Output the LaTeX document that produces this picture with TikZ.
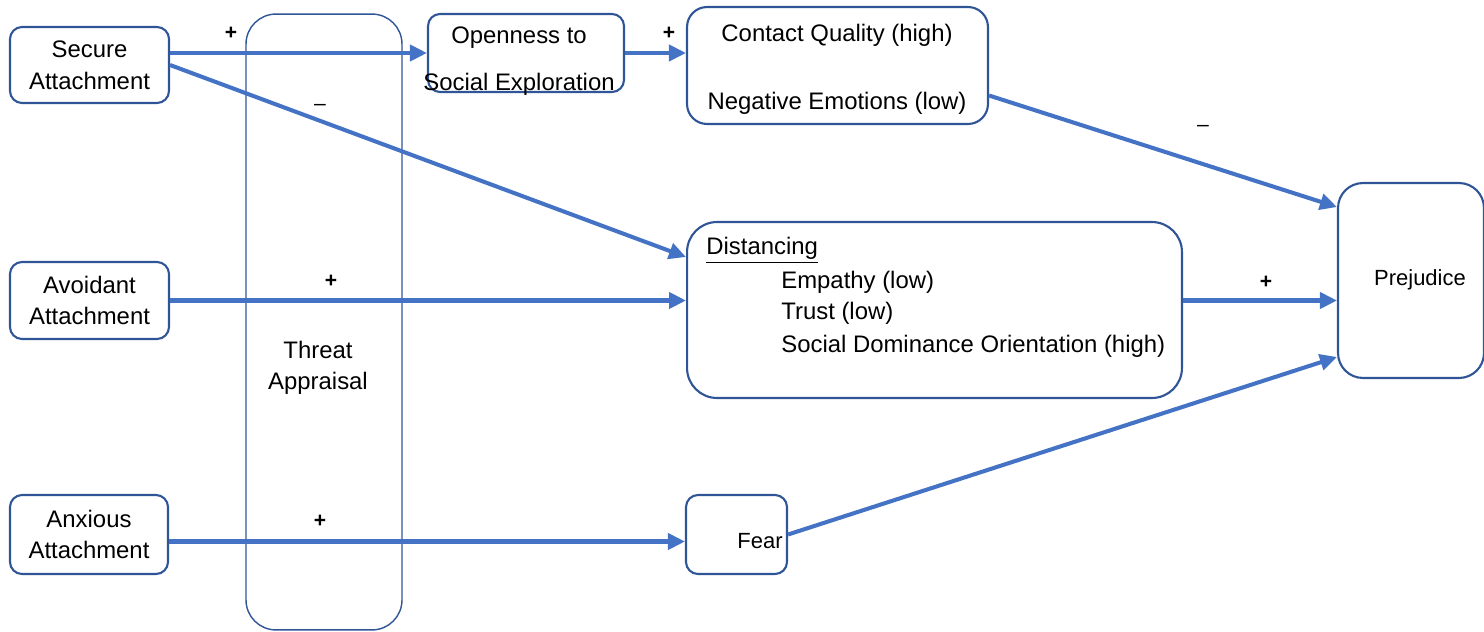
\documentclass[tikz,border=0pt]{standalone}
\usepackage{fontspec}
\setmainfont{Liberation Sans}
\usepackage{tikz}
\usetikzlibrary{positioning,calc,arrows.meta}

\definecolor{lineblue}{HTML}{4472C4}
\definecolor{boxblue}{HTML}{2F5597}

\tikzset{
  box/.style={draw=boxblue, line width=1.2pt, rounded corners=0.24cm, align=center,
    inner sep=0pt, font=\fontsize{13.6}{18}\selectfont},
  txt/.style={inner sep=0pt, font=\fontsize{13.6}{18}\selectfont},
  link/.style={draw=lineblue, line width=2.3pt, -{Triangle[length=0.34cm,width=0.32cm]}},
  sign/.style={inner sep=0pt, font=\fontsize{12}{12}\selectfont\bfseries}
}

\begin{document}
\begin{tikzpicture}[x=0.02cm,y=-0.02cm]
    \useasboundingbox (0,0) rectangle (1484,632);

    % Threat appraisal column
    \node[box, line width=0.8pt, rounded corners=0.6cm, minimum width=3.12cm, minimum height=12.32cm] (thr) at (324,322) {};
    \node[txt, align=center] (thrlbl) at (318,368) {Threat\\Appraisal};

    % Attachment styles
    \node[box, minimum width=3.18cm, minimum height=1.52cm] (sec) at (89.5,65) {Secure\\Attachment};
    \node[box, minimum width=3.18cm, minimum height=1.54cm] (avo) at (89.5,300.5) {Avoidant\\Attachment};
    \node[box, minimum width=3.16cm, minimum height=1.58cm] (anx) at (89,534.5) {Anxious\\Attachment};

    % Mediators
    \node[box, minimum width=3.92cm, minimum height=1.56cm] (opn) at (526,53) {};
    \node[txt, align=center, font=\fontsize{13.6}{27}\selectfont] (opntxt) at (519,61) {Openness to\\Social Exploration};
    \node[box, rounded corners=0.4cm, minimum width=6.02cm, minimum height=2.34cm] (con) at (837.5,65.5) {};
    \node[txt, align=center, font=\fontsize{13.6}{38.5}\selectfont] (context) at (837,69) {Contact Quality (high)\\Negative Emotions (low)};
    \node[box, rounded corners=0.6cm, minimum width=9.9cm, minimum height=3.52cm] (dis) at (934.5,310) {};
    \node[txt, anchor=north west, align=left, font=\fontsize{13.6}{18}\selectfont] (distxt) at (706,237)
      {\underline{Distancing}\\[1pt]
       \hspace*{1.5cm}Empathy (low)\\
       \hspace*{1.5cm}Trust (low)\\[0.5pt]
       \hspace*{1.5cm}Social Dominance Orientation (high)};
    \node[box, minimum width=2.02cm, minimum height=1.58cm] (fea) at (736.5,534.5) {};
    \node[txt, font=\fontsize{12.5}{15}\selectfont] (featxt) at (760,541) {Fear};

    % Outcome
    \node[box, rounded corners=0.5cm, minimum width=2.92cm, minimum height=3.9cm] (pre) at (1411,280.5) {};
    \node[txt, font=\fontsize{12.5}{15}\selectfont] (pretxt) at (1420,280) {Prejudice};

    % Paths
    \draw[link] (sec.east |- opn.west) -- (opn.west);
    \draw[link] (opn.east) -- (opn.east -| con.west);
    \draw[link] (sec.east) -- ([yshift=1.06cm]dis.west);
    \draw[link] (avo.east) -- (avo.east -| dis.west);
    \draw[link] ([yshift=-0.14cm]anx.east) -- ([yshift=-0.14cm]fea.west);
    \draw[link] ([yshift=-0.6cm]con.east) -- ([yshift=1.47cm]pre.west);
    \draw[link] (dis.east |- avo.east) -- (pre.west |- avo.east);
    \draw[link] (fea.east) -- ([yshift=-1.53cm]pre.west);

    % Signs
    \node[sign] (s1) at (231,33) {+};
    \node[sign] (s2) at (669,33) {+};
    \node[sign, font=\fontsize{12}{12}\selectfont] (s3) at (320,107) {–};
    \node[sign] (s4) at (331,281) {+};
    \node[sign] (s5) at (320,521) {+};
    \node[sign, font=\fontsize{12}{12}\selectfont] (s6) at (1203,128) {–};
    \node[sign] (s7) at (1266,282) {+};
\end{tikzpicture}
\end{document}
